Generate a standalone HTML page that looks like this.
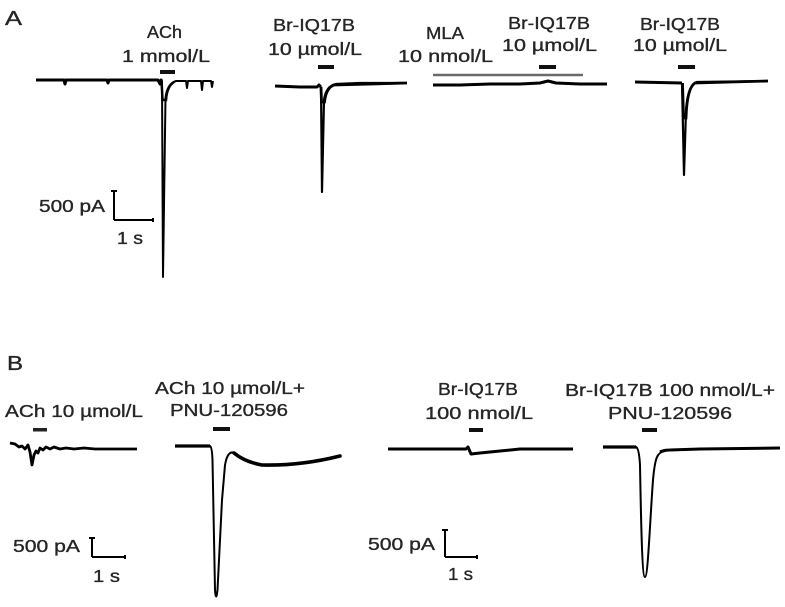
<!DOCTYPE html>
<html>
<head>
<meta charset="utf-8">
<style>
  html,body{margin:0;padding:0;background:#fff;}
  svg{display:block;}
  text{font-family:"Liberation Sans",Arial,sans-serif;fill:#262626;stroke:#262626;stroke-width:0.35px;font-size:17.5px;}
  .big{font-size:20px;}
</style>
</head>
<body>
<svg width="785" height="607" viewBox="0 0 785 607" xmlns="http://www.w3.org/2000/svg">
  <rect width="785" height="607" fill="#fff"/>

  <!-- ===== Panel A labels ===== -->
  <text class="big" x="5" y="25" textLength="17" lengthAdjust="spacingAndGlyphs">A</text>
  <text x="147" y="38" textLength="35" lengthAdjust="spacingAndGlyphs">ACh</text>
  <text x="122" y="62" textLength="88" lengthAdjust="spacingAndGlyphs">1 mmol/L</text>

  <text x="273" y="31" textLength="82" lengthAdjust="spacingAndGlyphs">Br-IQ17B</text>
  <text x="268" y="55" textLength="94" lengthAdjust="spacingAndGlyphs">10 µmol/L</text>

  <text x="426" y="39" textLength="38" lengthAdjust="spacingAndGlyphs">MLA</text>
  <text x="398" y="62" textLength="95" lengthAdjust="spacingAndGlyphs">10 nmol/L</text>

  <text x="508" y="29" textLength="82" lengthAdjust="spacingAndGlyphs">Br-IQ17B</text>
  <text x="502" y="51" textLength="95" lengthAdjust="spacingAndGlyphs">10 µmol/L</text>

  <text x="640" y="30" textLength="80" lengthAdjust="spacingAndGlyphs">Br-IQ17B</text>
  <text x="633" y="51" textLength="94" lengthAdjust="spacingAndGlyphs">10 µmol/L</text>

  <text x="39" y="212" textLength="66" lengthAdjust="spacingAndGlyphs">500 pA</text>
  <text x="117" y="244" textLength="26" lengthAdjust="spacingAndGlyphs">1 s</text>

  <!-- stimulus bars A -->
  <rect x="160" y="70" width="15" height="4" fill="#111"/>
  <rect x="318" y="65" width="16" height="4" fill="#111"/>
  <rect x="539" y="65" width="17" height="4" fill="#111"/>
  <rect x="678" y="65" width="17" height="4" fill="#111"/>

  <!-- MLA gray application line -->
  <line x1="433" y1="75" x2="583" y2="75" stroke="#6a6a6a" stroke-width="2.5"/>

  <!-- Trace A1 -->
  <path d="M36,80 L64,80 L65,84 L66,80 L107,80 L108,83 L109,80 L158,80 L160,84 L161,80 L162,81"
        fill="none" stroke="#000" stroke-width="3" stroke-linejoin="round"/>
  <path d="M162,81 L163,277 L165.5,98 Q167,84 176,81 L186,81 L187,88 L188,81 L201,81 L202,90 L203,81 L211,81 L212,87 L213,81"
        fill="none" stroke="#000" stroke-width="2" stroke-linejoin="round"/>
  <path d="M161.5,80 L162.5,100 L166,100 Q167,86 174,82" fill="none" stroke="#000" stroke-width="2.5"/>

  <!-- Trace A2 -->
  <path d="M275,86 L300,87 L317,87 L319,85 L321,87"
        fill="none" stroke="#000" stroke-width="3" stroke-linejoin="round"/>
  <path d="M321,87 L322,192 L324,100 Q326,86 336,84 L360,83 L407,83"
        fill="none" stroke="#000" stroke-width="2.2" stroke-linejoin="round"/>
  <path d="M321,87 L321.5,102 L324.5,102 Q326,88 334,85 L407,83" fill="none" stroke="#000" stroke-width="2.8"/>

  <!-- Trace A3 -->
  <path d="M433,85 L460,85 L490,84 L520,84 L540,83 L548,81 L556,83 L580,84 L607,84"
        fill="none" stroke="#000" stroke-width="3" stroke-linejoin="round"/>

  <!-- Trace A4 -->
  <path d="M635,82 L682,83"
        fill="none" stroke="#000" stroke-width="3"/>
  <path d="M682,83 L684,175 L686,110 Q688,84 697,82 L768,81"
        fill="none" stroke="#000" stroke-width="2.2" stroke-linejoin="round"/>
  <path d="M682.5,83 L683.5,118 L686,118 Q687,88 695,83 L768,81" fill="none" stroke="#000" stroke-width="2.8"/>

  <!-- Scale bar A -->
  <g stroke="#000" stroke-width="2" fill="none">
    <line x1="114" y1="191" x2="114" y2="220"/>
    <line x1="114" y1="220" x2="153" y2="220"/>
    <line x1="111" y1="191" x2="117" y2="191"/>
    <line x1="153" y1="218" x2="153" y2="222"/>
  </g>

  <!-- ===== Panel B labels ===== -->
  <text class="big" x="7" y="370" textLength="16" lengthAdjust="spacingAndGlyphs">B</text>
  <text x="5" y="417" textLength="138" lengthAdjust="spacingAndGlyphs">ACh 10 µmol/L</text>
  <text x="155" y="394" textLength="150" lengthAdjust="spacingAndGlyphs">ACh 10 µmol/L+</text>
  <text x="170" y="416" textLength="118" lengthAdjust="spacingAndGlyphs">PNU-120596</text>

  <text x="438" y="395" textLength="80" lengthAdjust="spacingAndGlyphs">Br-IQ17B</text>
  <text x="425" y="419" textLength="108" lengthAdjust="spacingAndGlyphs">100 nmol/L</text>

  <text x="565" y="396" textLength="210" lengthAdjust="spacingAndGlyphs">Br-IQ17B 100 nmol/L+</text>
  <text x="608" y="419" textLength="124" lengthAdjust="spacingAndGlyphs">PNU-120596</text>

  <text x="13" y="552" textLength="67" lengthAdjust="spacingAndGlyphs">500 pA</text>
  <text x="93" y="582" textLength="27" lengthAdjust="spacingAndGlyphs">1 s</text>
  <text x="368" y="550" textLength="67" lengthAdjust="spacingAndGlyphs">500 pA</text>
  <text x="448" y="580" textLength="25" lengthAdjust="spacingAndGlyphs">1 s</text>

  <!-- stimulus bars B -->
  <rect x="33" y="428" width="14" height="3.5" fill="#222"/>
  <rect x="213" y="427" width="17" height="4" fill="#111"/>
  <rect x="469" y="428" width="14" height="4" fill="#111"/>
  <rect x="642" y="428" width="15" height="4" fill="#111"/>

  <!-- Trace B1 -->
  <path d="M10,443 L15,444 L19,447 L22,446 L25,449 L28,445 L30,452 L32,465 L34,455 L36,451 L38,453 L40,448 L43,450 L46,447 L50,449 L54,447 L60,449 L66,448 L74,449 L84,448 L95,449 L110,449 L125,449 L137,449"
        fill="none" stroke="#000" stroke-width="2.8" stroke-linejoin="round"/>

  <!-- Trace B2 -->
  <path d="M175,446 L210,446 Q212,447 212.5,460 L215,590 Q216,603 217.5,590 L222,500 L225,465 Q228,448 236,454"
        fill="none" stroke="#000" stroke-width="2" stroke-linejoin="round"/>
  <path d="M175,446 L210,446" fill="none" stroke="#000" stroke-width="3.2"/>
  <path d="M234,453 Q245,462 262,465 Q300,466 340,456"
        fill="none" stroke="#000" stroke-width="3.6" stroke-linecap="round"/>

  <!-- Trace B3 -->
  <path d="M388,449 L466,449 L468,447 L471,454 L480,453 L500,451 L520,449 L573,449"
        fill="none" stroke="#000" stroke-width="3" stroke-linejoin="round"/>

  <!-- Trace B4 -->
  <path d="M603,447 L636,447 Q639,448 640,465 C641,520 642,577 645,577 C648,577 650,520 653,480 C655,458 657,452 665,451"
        fill="none" stroke="#000" stroke-width="2" stroke-linejoin="round"/>
  <path d="M603,447 L636,447" fill="none" stroke="#000" stroke-width="3.2"/>
  <path d="M660,452 Q664,450 670,450 L700,449 L780,448" fill="none" stroke="#000" stroke-width="3"/>

  <!-- Scale bar B1 -->
  <g stroke="#000" stroke-width="2" fill="none">
    <line x1="92" y1="538" x2="92" y2="557"/>
    <line x1="92" y1="557" x2="125" y2="557"/>
    <line x1="89" y1="538" x2="95" y2="538"/>
    <line x1="125" y1="555" x2="125" y2="559"/>
  </g>
  <!-- Scale bar B2 -->
  <g stroke="#000" stroke-width="2" fill="none">
    <line x1="445" y1="530" x2="445" y2="557"/>
    <line x1="445" y1="557" x2="477" y2="557"/>
    <line x1="442" y1="530" x2="448" y2="530"/>
    <line x1="477" y1="555" x2="477" y2="559"/>
  </g>
</svg>
</body>
</html>
